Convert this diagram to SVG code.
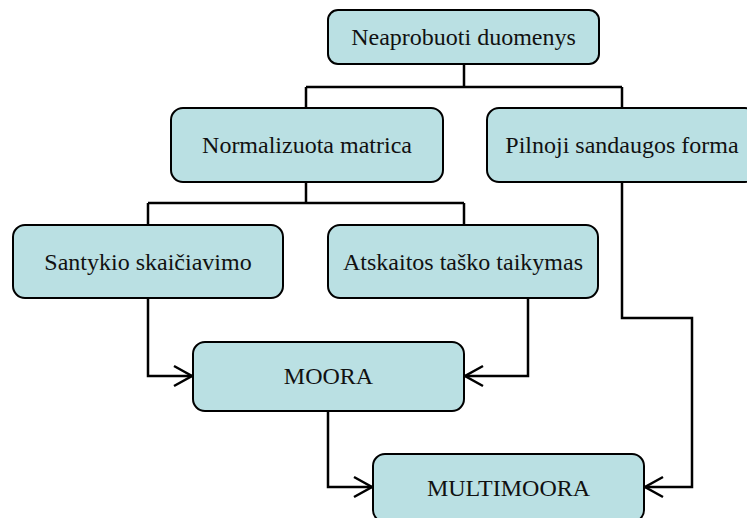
<svg xmlns="http://www.w3.org/2000/svg" width="747" height="518" viewBox="0 0 747 518">
<style>
.box{fill:#bae0e3;stroke:#000;stroke-width:2}
.lbl{font-family:"Liberation Serif","Times New Roman",serif;font-size:24px;fill:#111;text-anchor:middle}
.con{fill:none;stroke:#000;stroke-width:2.5}
</style>
<defs>
<marker id="arr" markerUnits="userSpaceOnUse" markerWidth="24" markerHeight="28" viewBox="-20 -14 24 28" refX="0" refY="0" orient="auto">
<path d="M-18,-10 L0,0 L-18,10" fill="none" stroke="#000" stroke-width="2.5"/>
</marker>
</defs>
<g id="connectors">
<path class="con" d="M464,64 V87 M306,87 H622 M306,87 V108 M622,87 V108"/>
<path class="con" d="M306,182 V203 M148,203 H464 M148,203 V225 M464,203 V225"/>
<path class="con" d="M148,298 V376 H192" marker-end="url(#arr)"/>
<path class="con" d="M528,298 V376 H465" marker-end="url(#arr)"/>
<path class="con" d="M328,411 V487 H372" marker-end="url(#arr)"/>
<path class="con" d="M622,182 V318 H692 V487 H645" marker-end="url(#arr)"/>
</g>
<g id="n1"><rect class="box" x="328" y="10" width="271" height="54" rx="10"/><text class="lbl" x="463.5" y="45">Neaprobuoti duomenys</text></g>
<g id="n2"><rect class="box" x="171" y="108" width="272" height="74" rx="12"/><text class="lbl" x="307" y="153">Normalizuota matrica</text></g>
<g id="n3"><rect class="box" x="487" y="108" width="270" height="74" rx="12"/><text class="lbl" x="622" y="153">Pilnoji sandaugos forma</text></g>
<g id="n4"><rect class="box" x="13" y="225" width="270" height="73" rx="12"/><text class="lbl" x="148" y="270">Santykio skaičiavimo</text></g>
<g id="n5"><rect class="box" x="328" y="225" width="270" height="73" rx="12"/><text class="lbl" x="463" y="270">Atskaitos taško taikymas</text></g>
<g id="n6"><rect class="box" x="193" y="342" width="271" height="69" rx="12"/><text class="lbl" x="328.5" y="384">MOORA</text></g>
<g id="n7"><rect class="box" x="373" y="454" width="271" height="68" rx="12"/><text class="lbl" x="508.5" y="496">MULTIMOORA</text></g>
</svg>
